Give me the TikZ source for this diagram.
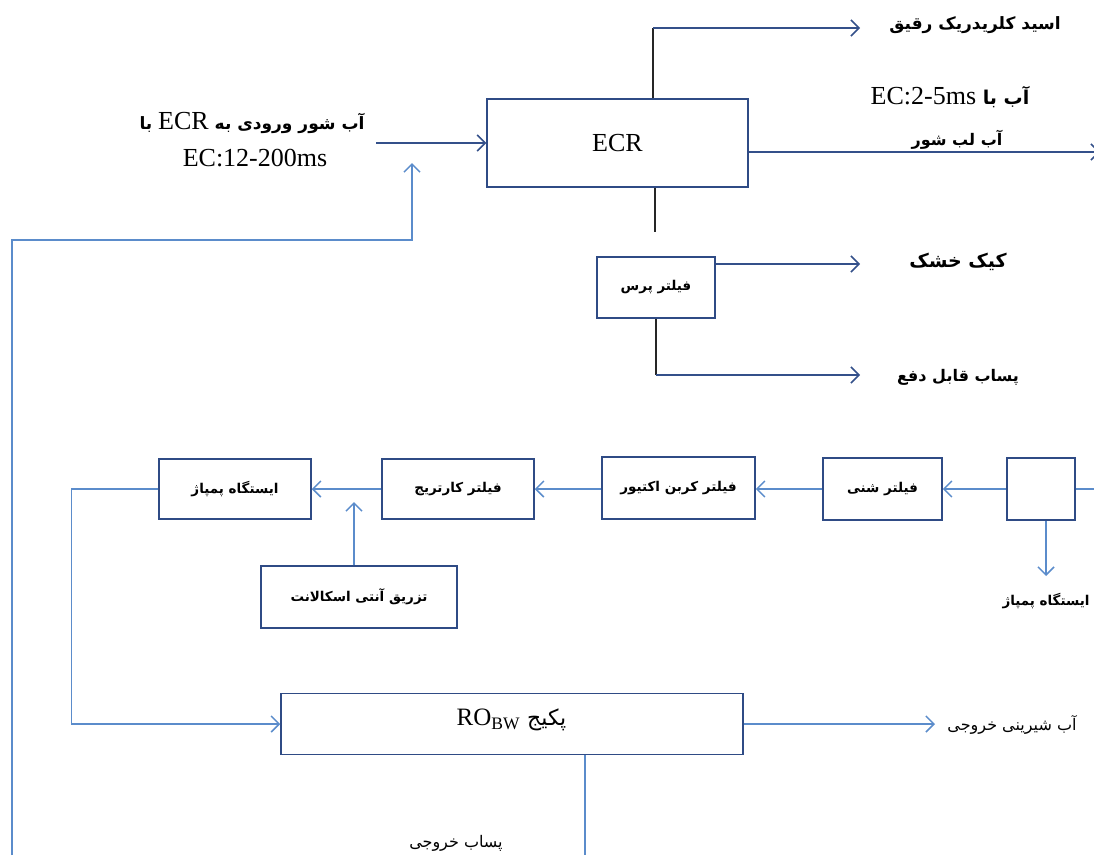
\documentclass[tikz,border=0pt]{standalone}
\usepackage{fontspec}
\setmainfont{Liberation Serif}
\newfontfamily\farsi[Script=Arabic]{DejaVu Sans}
\TeXXeTstate=1
\usetikzlibrary{arrows.meta,positioning}

\definecolor{boxcol}{HTML}{2F4B85}
\definecolor{navycol}{HTML}{34508A}
\definecolor{litecol}{HTML}{5B8CCB}

% Persian text, right to left (bold and regular)
\newcommand\pers[2][13.5]{{\farsi\bfseries\fontsize{#1}{#1}\selectfont\beginR #2\endR}}
\newcommand\persl[2][16]{{\farsi\fontsize{#1}{#1}\selectfont\beginR #2\endR}}
\newcommand\latn[2][26]{{\rmfamily\mdseries\fontsize{#1}{#1}\selectfont\beginL #2\endL}}

\tikzset{
  box/.style={draw=boxcol, line width=1.5pt, fill=white, inner sep=0pt},
  navyline/.style={draw=navycol, line width=1.5pt},
  liteline/.style={draw=litecol, line width=1.5pt},
  blackline/.style={draw=black!85, line width=1.5pt},
  tip/.style={-{Straight Barb[length=8pt,width=16pt]}},
  lbl/.style={inner sep=0pt},
}

\begin{document}
\begin{tikzpicture}[x=1pt,y=-1pt]
    \useasboundingbox (0,0) rectangle (1094,855);

    % Bloki ECR
    \node[box, minimum width=261pt, minimum height=88pt] (ecr) at (617.5,143) {\latn{ECR}};
    \node[box, minimum width=118pt, minimum height=61pt] (press) at (656,287.5) {\pers{فیلتر پرس}};

    % Podpisi
    \node[lbl] (inlbl) at (252,123) {\pers[17]{آب شور ورودی به \latn{ECR} با}};
    \node[lbl] (inlbltwo) at (255,158) {\latn{EC:12-200ms}};
    \node[lbl] (acidlbl) at (975,25) {\pers[17]{اسید کلریدریک رقیق}};
    \node[lbl] (brinelbl) at (950,97) {\pers[19]{آب با \latn{EC:2-5ms}}};
    \node[lbl] (brinelbltwo) at (957,140) {\pers[16]{آب لب شور}};
    \node[lbl] (cakelbl) at (958,262) {\pers[19]{کیک خشک}};
    \node[lbl] (wastelbl) at (958,377) {\pers[16]{پساب قابل دفع}};

    \coordinate (inlet) at (376,143);
    \coordinate (acid) at (860,28);
    \coordinate (brine) at (1100,152);
    \coordinate (cake) at (860,264);
    \coordinate (waste) at (860,375);
    \coordinate (ret) at (412,163);
    \coordinate (retstart) at (12,855);

    % Svyazi ECR
    \draw[navyline, tip] (inlet) -- (inlet -| ecr.west);
    \draw[blackline] ([xshift=35.5pt]ecr.north) -- ([xshift=35.5pt]ecr.north |- acid);
    \draw[navyline, tip] ([xshift=35.5pt]ecr.north |- acid) -- (acid);
    \draw[navyline, tip] (ecr.east |- brine) -- (brine);
    \draw[blackline] ([xshift=37.5pt]ecr.south) -- ++(0,44);
    \draw[navyline, tip] (press.east |- cake) -- (cake);
    \draw[blackline] (press.south) -- (press.south |- waste);
    \draw[navyline, tip] (press.south |- waste) -- (waste);
    \draw[liteline, tip] (retstart) |- (ret |- 0,240) -- (ret);

    % Liniya filtrov
    \node[box, minimum width=68pt, minimum height=62pt] (split) at (1041,489) {};
    \node[box, minimum width=119pt, minimum height=62pt] (sand) at (882.5,489) {\pers{فیلتر شنی}};
    \node[box, minimum width=153pt, minimum height=62pt] (carbon) at (678.5,488) {\pers{فیلتر کربن اکتیور}};
    \node[box, minimum width=152pt, minimum height=60pt] (cart) at (458,489) {\pers{فیلتر کارتریج}};
    \node[box, minimum width=152pt, minimum height=60pt] (pump) at (235,489) {\pers{ایستگاه پمپاژ}};
    \node[box, minimum width=196pt, minimum height=62pt] (anti) at (359,597) {\pers{تزریق آنتی اسکالانت}};
    \node[lbl] (bypasslbl) at (1046,601) {\pers{ایستگاه پمپاژ}};

    \coordinate (feed) at (1094,489);
    \coordinate (bypass) at (1046,576);

    \draw[liteline] (split.east) -- (feed);
    \draw[liteline, tip] (split.west) -- (sand.east);
    \draw[liteline, tip] (sand.west) -- (carbon.east |- sand.west);
    \draw[liteline, tip] (carbon.west |- sand.west) -- (cart.east);
    \draw[liteline, tip] (cart.west) -- (pump.east);
    \draw[liteline, tip] ([xshift=5pt]split.south) -- (bypass);
    \draw[liteline, tip] ([xshift=-5pt]anti.north) -- ([xshift=-5pt]anti.north |- 0,502);

    % RO
    \node[box, minimum width=462pt, minimum height=61pt] (ro) at (512,724) {};
    \node[lbl] (rolbl) at (511.5,720) {\persl[22]{پکیج \latn[25]{RO\textsubscript{BW}}}};
    \node[lbl] (freshlbl) at (1012,725) {\persl[16]{آب شیرینی خروجی}};
    \node[lbl] (rowastelbl) at (456,843) {\persl[16]{پساب خروجی}};

    \coordinate (fresh) at (935,724);
    \coordinate (roout) at (585,855);

    \draw[liteline, tip] (pump.west) -- ++(-87,0) |- (ro.west);
    \draw[liteline, tip] (ro.east) -- (fresh);
    \draw[liteline] (ro.south -| roout) -- (roout);
\end{tikzpicture}
\end{document}
